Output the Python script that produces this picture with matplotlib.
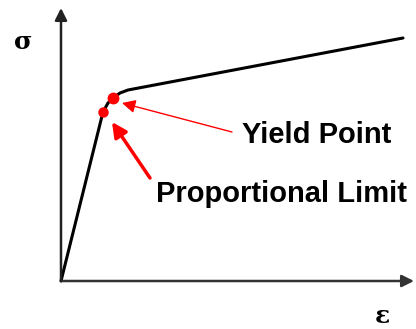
import matplotlib
matplotlib.use("Agg")
import matplotlib.pyplot as plt

# stress-strain curve (arbitrary units, origin at axis corner)
strain = [0, 42, 47, 52, 59, 67, 342]
stress = [0, 169, 178, 183, 188, 191, 243]

yield_pt = (52, 183)
prop_pt = (42, 169)

labels = ["Yield Point", "Proportional Limit"]

fig = plt.figure(figsize=(4.16, 3.29), dpi=100)
ax = fig.add_axes([0, 0, 1, 1])
ax.set_xlim(-61, 355)
ax.set_ylim(-48, 281)
ax.axis("off")

# axes with arrow heads
ax.annotate("", xy=(353, 0), xytext=(0, 0),
            arrowprops=dict(arrowstyle="-|>", color="#333333", lw=1.8,
                            mutation_scale=18, shrinkA=0, shrinkB=0))
ax.annotate("", xy=(0, 273), xytext=(0, 0),
            arrowprops=dict(arrowstyle="-|>", color="#222222", lw=1.8,
                            mutation_scale=18, shrinkA=0, shrinkB=0))

ax.plot(strain, stress, color="black", lw=2.2, solid_capstyle="round")

ax.plot(*yield_pt, "o", color="red", ms=7.5, zorder=5)
ax.plot(*prop_pt, "o", color="red", ms=6.5, zorder=5)

# yield point annotation (thin arrow)
ax.annotate("", xy=(61, 178), xytext=(171, 149),
            arrowprops=dict(arrowstyle="-|>", color="red", lw=1.0,
                            mutation_scale=20, shrinkA=0, shrinkB=0))
ax.text(181, 138, labels[0], fontsize=21, family="Liberation Sans",
        weight="bold", va="baseline", ha="left")

# proportional limit annotation (thick arrow)
ax.annotate("", xy=(51, 159), xytext=(89, 103),
            arrowprops=dict(arrowstyle="-|>", color="red", lw=2.5,
                            mutation_scale=22, shrinkA=0, shrinkB=0))
ax.text(95, 79, labels[1], fontsize=21, family="Liberation Sans",
        weight="bold", va="baseline", ha="left")

ax.text(-38, 239, "σ", fontsize=18, family="DejaVu Serif", weight="bold",
        ha="center", va="center")
ax.text(321, -35, "ε", fontsize=18, family="DejaVu Serif", weight="bold",
        ha="center", va="center")

fig.savefig("out.png", dpi=100)
